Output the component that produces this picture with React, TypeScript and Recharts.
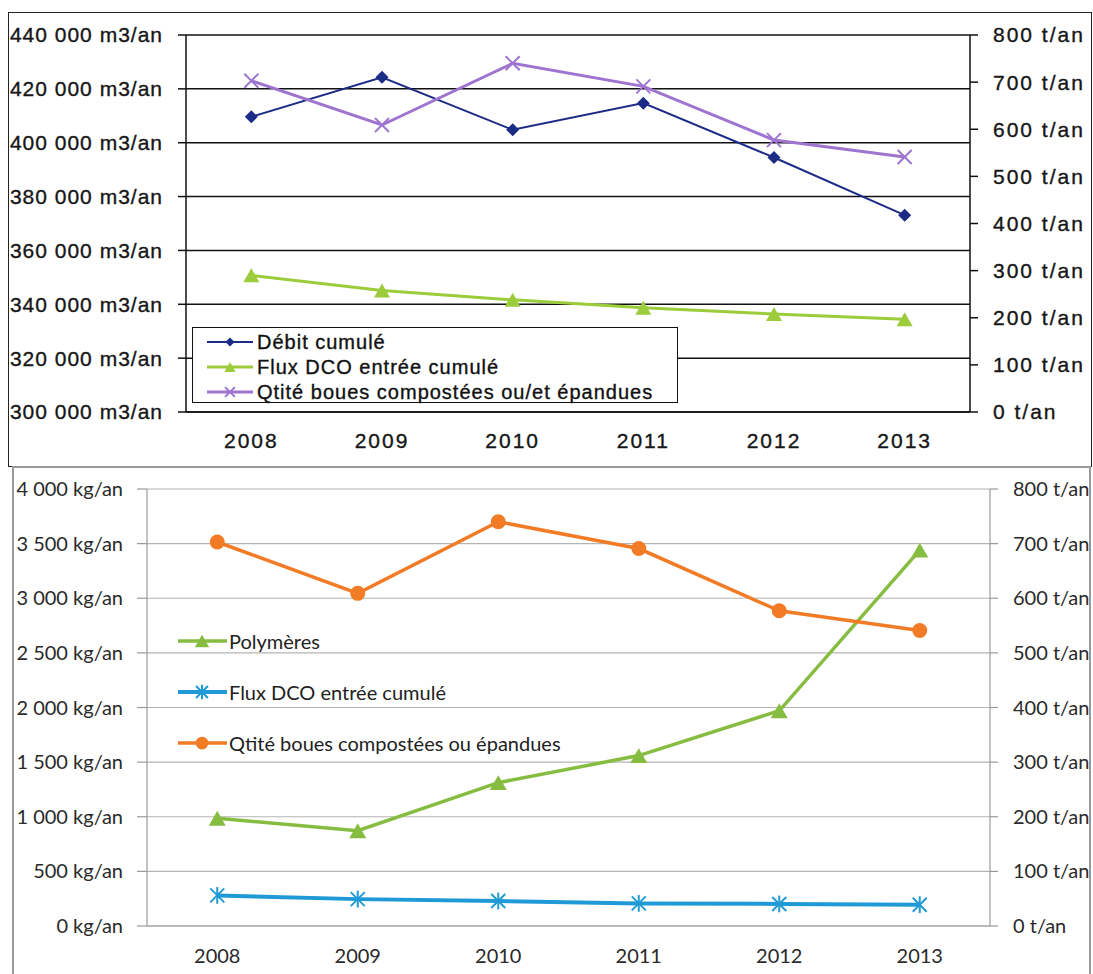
import React from 'react';
import { LineChart, Line, XAxis, YAxis, CartesianGrid } from 'recharts';

// ---------- data ----------
const years = ['2008', '2009', '2010', '2011', '2012', '2013'];
const debitCumule = [409600, 424300, 404800, 414700, 394500, 373100]; // m3/an
const fluxDcoTop = [290, 258, 238, 221, 208, 197]; // t/an
const qtiteBoues = [703, 609, 740, 691, 577, 541]; // t/an
const polymeres = [986, 872, 1312, 1560, 1970, 3440]; // kg/an
const fluxDcoBottom = [280, 246, 229, 207, 202, 195];

const topLeftTicks = [300000, 320000, 340000, 360000, 380000, 400000, 420000, 440000];
const tanTicks = [0, 100, 200, 300, 400, 500, 600, 700, 800];
const kgTicks = [0, 500, 1000, 1500, 2000, 2500, 3000, 3500, 4000];
const edgeTicks = Array.from({ length: years.length + 1 }, (_, i) => i);

const topNames = ['Débit cumulé', 'Flux DCO entrée cumulé', 'Qtité boues compostées ou/et épandues'];
const bottomNames = ['Polymères', 'Flux DCO entrée cumulé', 'Qtité boues compostées ou épandues'];

const topData = years.map((year, i) => ({ year, debit: debitCumule[i], dco: fluxDcoTop[i], boues: qtiteBoues[i] }));
const bottomData = years.map((year, i) => ({ year, poly: polymeres[i], dco: fluxDcoBottom[i], boues: qtiteBoues[i] }));

// ---------- styles ----------
const C = {
  navy: '#1C2B86',
  limeTop: '#9CCB3C',
  purple: '#9E74D0',
  orange: '#F27B26',
  green: '#86BD41',
  blue: '#1F9AD6',
};

const fmtSpace = (v: number) => {
  if (v >= 1000) {
    const th = Math.floor(v / 1000);
    const rest = String(v % 1000).padStart(3, '0');
    return `${th} ${rest}`;
  }
  return String(v);
};

// ---------- markers ----------
type MK = 'diamond' | 'triangle' | 'x' | 'asterisk' | 'circle';
function Marker({ kind, cx, cy, color, s }: { kind: MK; cx: number; cy: number; color: string; s: number }) {
  if (cx == null || cy == null) return <g />;
  switch (kind) {
    case 'diamond':
      return <polygon points={`${cx},${cy - s} ${cx + s},${cy} ${cx},${cy + s} ${cx - s},${cy}`} fill={color} />;
    case 'triangle': {
      const h = s * 1.75;
      return <polygon points={`${cx},${cy - h / 2} ${cx + s},${cy + h / 2} ${cx - s},${cy + h / 2}`} fill={color} />;
    }
    case 'x':
      return (
        <g stroke={color} strokeWidth={2}>
          <line x1={cx - s} y1={cy - s} x2={cx + s} y2={cy + s} />
          <line x1={cx - s} y1={cy + s} x2={cx + s} y2={cy - s} />
        </g>
      );
    case 'asterisk':
      return (
        <g stroke={color} strokeWidth={2}>
          <line x1={cx - s} y1={cy - s} x2={cx + s} y2={cy + s} />
          <line x1={cx - s} y1={cy + s} x2={cx + s} y2={cy - s} />
          <line x1={cx} y1={cy - s * 1.2} x2={cx} y2={cy + s * 1.2} />
        </g>
      );
    case 'circle':
    default:
      return <circle cx={cx} cy={cy} r={s} fill={color} />;
  }
}

const dotFn = (kind: MK, color: string, s: number) => (p: any) => (
  <Marker key={`m-${p.index}`} kind={kind} cx={p.cx} cy={p.cy} color={color} s={s} />
);

const topSeries = [
  { key: 'debit', name: topNames[0], color: C.navy, kind: 'diamond' as MK, s: 6.5, w: 2, axis: 'left' },
  { key: 'dco', name: topNames[1], color: C.limeTop, kind: 'triangle' as MK, s: 8, w: 3, axis: 'right' },
  { key: 'boues', name: topNames[2], color: C.purple, kind: 'x' as MK, s: 7, w: 3, axis: 'right' },
];
const bottomSeries = [
  { key: 'poly', name: bottomNames[0], color: C.green, kind: 'triangle' as MK, s: 8.5, w: 3.5, axis: 'left' },
  { key: 'dco', name: bottomNames[1], color: C.blue, kind: 'asterisk' as MK, s: 7, w: 4, axis: 'left' },
  { key: 'boues', name: bottomNames[2], color: C.orange, kind: 'circle' as MK, s: 7.5, w: 3.5, axis: 'right' },
];

const topFont = {
  fontFamily: '"Liberation Sans", Arial, sans-serif',
  fontSize: 21,
  fill: '#161616',
  stroke: '#161616',
  strokeWidth: 0.35,
};
const botFont = { fontFamily: 'Lato, "Open Sans", sans-serif', fontSize: 20, fill: '#2a2a2a' };

export default function App() {
  return (
    <div style={{ position: 'absolute', left: 0, top: 0, width: 1093, height: 974, background: '#fff', overflow: 'hidden' }}>
      {/* ---------- TOP CHART ---------- */}
      <div style={{ position: 'absolute', left: 0, top: 0 }}>
        <LineChart width={1093} height={467} data={topData} margin={{ top: 35, right: 0, left: 0, bottom: 0 }}>
          <CartesianGrid xAxisId="cat" yAxisId="left" vertical={false} stroke="#111" strokeWidth={1.5} />
          <XAxis
            xAxisId="cat"
            dataKey="year"
            scale="band"
            height={54}
            axisLine={false}
            tickLine={false}
            tickSize={8}
            tickMargin={12}
            interval={0}
            tick={{ ...topFont, letterSpacing: 2 }}
          />
          <XAxis
            xAxisId="aEdge"
            type="number"
            domain={[0, years.length]}
            ticks={edgeTicks}
            allowDataOverflow
            height={1}
            tick={false}
            tickSize={7}
            axisLine={{ stroke: '#111', strokeWidth: 1.5 }}
            tickLine={{ stroke: '#111', strokeWidth: 1.5 }}
            interval={0}
          />
          <YAxis
            yAxisId="left"
            width={186}
            domain={[300000, 440000]}
            ticks={topLeftTicks}
            interval={0}
            tickFormatter={(v: number) => `${fmtSpace(v)} m3/an`}
            tickSize={8}
            tickMargin={15}
            axisLine={{ stroke: '#111', strokeWidth: 1.5 }}
            tickLine={{ stroke: '#111', strokeWidth: 1.5 }}
            tick={{ ...topFont, letterSpacing: 1 }}
          />
          <YAxis
            yAxisId="right"
            orientation="right"
            width={123}
            domain={[0, 800]}
            ticks={tanTicks}
            interval={0}
            tickFormatter={(v: number) => `${v} t/an`}
            tickSize={8}
            tickMargin={15}
            axisLine={{ stroke: '#111', strokeWidth: 1.5 }}
            tickLine={{ stroke: '#111', strokeWidth: 1.5 }}
            tick={{ ...topFont, letterSpacing: 2 }}
          />
          {topSeries.map((s) => (
            <Line
              key={s.key}
              xAxisId="cat"
              yAxisId={s.axis}
              type="linear"
              dataKey={s.key}
              name={s.name}
              stroke={s.color}
              strokeWidth={s.w}
              dot={dotFn(s.kind, s.color, s.s)}
              activeDot={false}
              isAnimationActive={false}
            />
          ))}
        </LineChart>
      </div>

      {/* top legend */}
      <div
        style={{
          position: 'absolute',
          left: 192,
          top: 327,
          width: 486,
          height: 76,
          border: '1.5px solid #111',
          boxSizing: 'border-box',
          background: '#fff',
        }}
      >
        {topSeries.map((s, i) => (
          <div key={s.key} style={{ position: 'absolute', left: 0, top: 2 + i * 25, height: 24, width: '100%' }}>
            <svg width={48} height={24} style={{ position: 'absolute', left: 14, top: 0 }}>
              <line x1={0} y1={12} x2={46} y2={12} stroke={s.color} strokeWidth={s.w} />
              <Marker kind={s.kind} cx={23} cy={12} color={s.color} s={s.s * 0.7} />
            </svg>
            <span
              style={{
                position: 'absolute',
                left: 64,
                top: 0,
                lineHeight: '24px',
                fontFamily: topFont.fontFamily,
                fontSize: 20,
                letterSpacing: 1,
                color: '#111',
                WebkitTextStroke: '0.35px #111',
                whiteSpace: 'nowrap',
              }}
            >
              {s.name}
            </span>
          </div>
        ))}
      </div>

      {/* top border */}
      <div
        style={{
          position: 'absolute',
          left: 8,
          top: 12,
          width: 1084,
          height: 455,
          border: '1.5px solid #222',
          boxSizing: 'border-box',
          pointerEvents: 'none',
        }}
      />

      {/* ---------- BOTTOM CHART ---------- */}
      <div style={{ position: 'absolute', left: 0, top: 467 }}>
        <LineChart width={1093} height={507} data={bottomData} margin={{ top: 22, right: 0, left: 0, bottom: 0 }}>
          <CartesianGrid xAxisId="cat" yAxisId="left" vertical={false} stroke="#b4b4b4" strokeWidth={1.2} />
          <XAxis
            xAxisId="cat"
            dataKey="year"
            scale="band"
            height={47}
            axisLine={false}
            tickLine={false}
            tickSize={8}
            tickMargin={14}
            interval={0}
            tick={{ ...botFont }}
          />
          <XAxis
            xAxisId="aEdge"
            type="number"
            domain={[0, years.length]}
            ticks={edgeTicks}
            allowDataOverflow
            height={1}
            tick={false}
            tickSize={8}
            axisLine={{ stroke: '#9a9a9a', strokeWidth: 1.2 }}
            tickLine={{ stroke: '#9a9a9a', strokeWidth: 1.2 }}
            interval={0}
          />
          <YAxis
            yAxisId="left"
            width={147}
            domain={[0, 4000]}
            ticks={kgTicks}
            interval={0}
            tickFormatter={(v: number) => `${fmtSpace(v)} kg/an`}
            tickSize={10}
            tickMargin={14}
            axisLine={{ stroke: '#9a9a9a', strokeWidth: 1.2 }}
            tickLine={{ stroke: '#9a9a9a', strokeWidth: 1.2 }}
            tick={{ ...botFont }}
          />
          <YAxis
            yAxisId="right"
            orientation="right"
            width={103}
            domain={[0, 800]}
            ticks={tanTicks}
            interval={0}
            tickFormatter={(v: number) => `${v} t/an`}
            tickSize={8}
            tickMargin={15}
            axisLine={{ stroke: '#9a9a9a', strokeWidth: 1.2 }}
            tickLine={{ stroke: '#9a9a9a', strokeWidth: 1.2 }}
            tick={{ ...botFont }}
          />
          {bottomSeries.map((s) => (
            <Line
              key={s.key}
              xAxisId="cat"
              yAxisId={s.axis}
              type="linear"
              dataKey={s.key}
              name={s.name}
              stroke={s.color}
              strokeWidth={s.w}
              dot={dotFn(s.kind, s.color, s.s)}
              activeDot={false}
              isAnimationActive={false}
            />
          ))}
        </LineChart>
      </div>

      {/* bottom legend */}
      {bottomSeries.map((s, i) => (
        <div key={s.key} style={{ position: 'absolute', left: 178, top: 629 + i * 51, height: 24, width: 420 }}>
          <svg width={50} height={24} style={{ position: 'absolute', left: 0, top: 0 }}>
            <line x1={0} y1={12} x2={49} y2={12} stroke={s.color} strokeWidth={s.w} />
            <Marker kind={s.kind} cx={24} cy={12} color={s.color} s={s.s * 0.85} />
          </svg>
          <span
            style={{
              position: 'absolute',
              left: 51,
              top: 0,
              lineHeight: '24px',
              fontFamily: botFont.fontFamily,
              fontSize: 20,
              color: '#222',
              whiteSpace: 'nowrap',
            }}
          >
            {s.name}
          </span>
        </div>
      ))}

      {/* bottom border */}
      <div
        style={{
          position: 'absolute',
          left: 12,
          top: 466,
          width: 1079,
          height: 510,
          border: '2px solid #9a9a9a',
          boxSizing: 'border-box',
          pointerEvents: 'none',
        }}
      />
    </div>
  );
}
